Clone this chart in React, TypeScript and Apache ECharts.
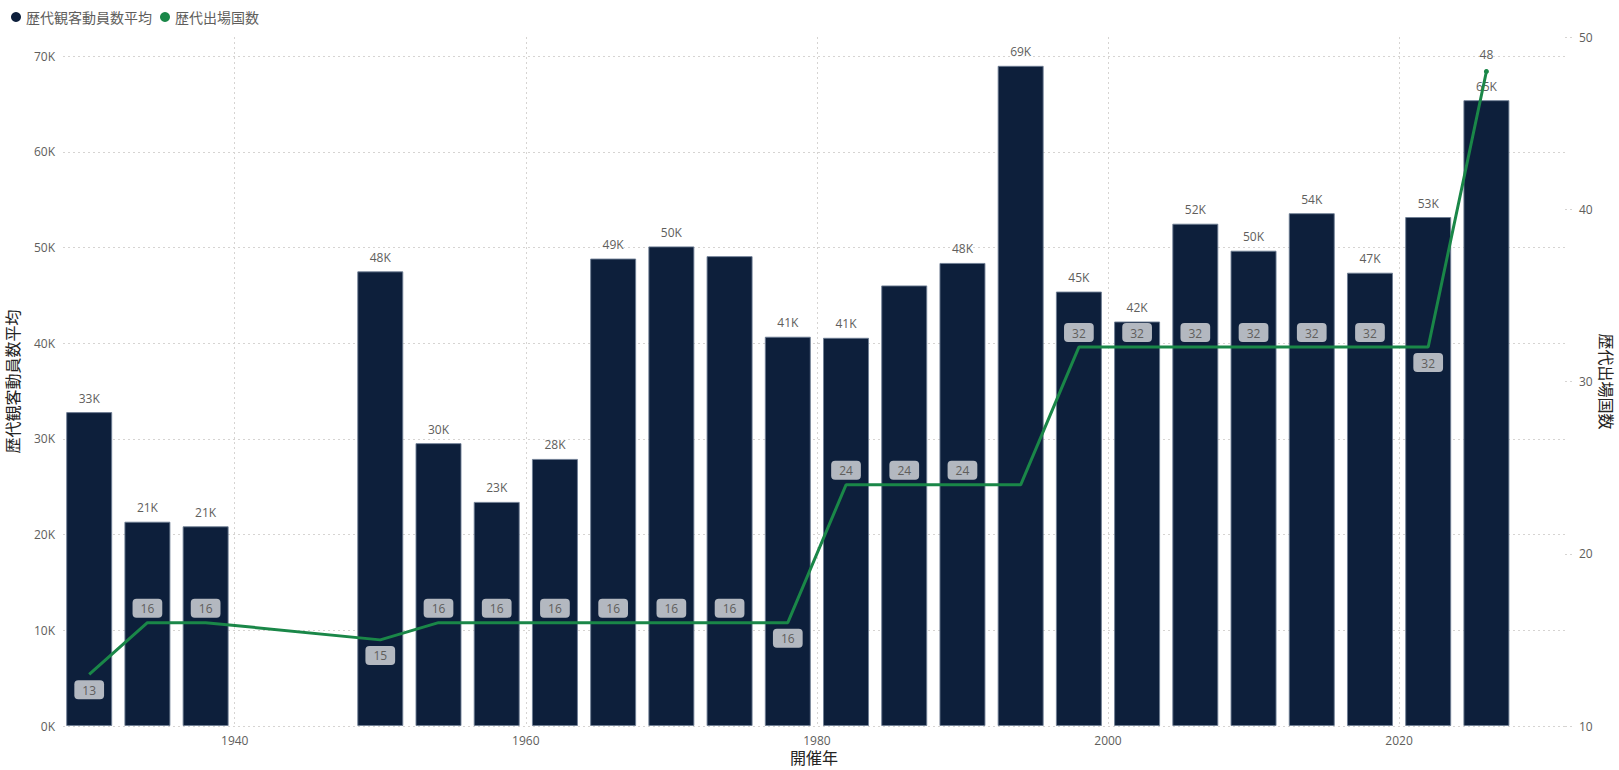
import React, { useEffect, useRef } from "react";
import * as echarts from "echarts";

const years = [1930, 1934, 1938, 1950, 1954, 1958, 1962, 1966, 1970, 1974, 1978, 1982, 1986, 1990, 1994, 1998, 2002, 2006, 2010, 2014, 2018, 2022, 2026];
const attendance = [32800, 21350, 20870, 47510, 29560, 23420, 27910, 48850, 50120, 49100, 40680, 40570, 46040, 48390, 68990, 45400, 42270, 52490, 49670, 53590, 47370, 53190, 65400];
const teams = [13, 16, 16, 15, 16, 16, 16, 16, 16, 16, 16, 24, 24, 24, 24, 32, 32, 32, 32, 32, 32, 32, 48];

// label display config (by year)
const hiddenBarLabelYears = [1974, 1986];
const hiddenLineLabelYears = [1994];
const lineLabelBelowYears = [1930, 1950, 1978, 2022];
const plainLineLabelYears = [2026];

const barName = "歴代観客動員数平均";
const lineName = "歴代出場国数";

const FONT = "'Segoe UI', 'Open Sans', 'Noto Sans CJK JP', sans-serif";
const NAVY = "#0D1F3B";
const GREEN = "#1A8748";
const GRAY = "#605E5C";
const GRID = "#D6D4D2";

export default function App() {
  const ref = useRef<HTMLDivElement>(null);
  useEffect(() => {
    if (!ref.current) return;
    const chart = echarts.init(ref.current, undefined, { renderer: "svg" });

    const barData = years.map((y, i) => ({
      value: [y, attendance[i]],
      label: { show: !hiddenBarLabelYears.includes(y) },
    }));

    const lineData = years.map((y, i) => {
      const below = lineLabelBelowYears.includes(y);
      const plain = plainLineLabelYears.includes(y);
      return {
        value: [y, teams[i]],
        symbolSize: plain ? 5 : 0,
        label: {
          show: !hiddenLineLabelYears.includes(y),
          position: below ? "bottom" : "top",
          distance: plain ? 8 : below ? 6 : 5,
          backgroundColor: plain ? "transparent" : "#B3B8C0",
          padding: plain ? 0 : [4, 8, 3, 8],
        },
      };
    });

    chart.setOption({
      animation: false,
      textStyle: { fontFamily: FONT },
      legend: {
        left: 6,
        top: 5,
        icon: "circle",
        itemWidth: 10,
        itemHeight: 10,
        itemGap: 8,
        textStyle: { fontSize: 14, color: GRAY, fontFamily: FONT },
        data: [
          { name: barName, itemStyle: { color: NAVY, borderWidth: 0 } },
          { name: lineName, itemStyle: { color: GREEN, borderWidth: 0 } },
        ],
      },
      grid: { left: 63, right: 54, top: 37, bottom: 44, outerBoundsMode: "none" },
      xAxis: {
        type: "value",
        min: 1928.2,
        max: 2031.4,
        splitNumber: 5,
        name: "開催年",
        nameLocation: "middle",
        nameGap: 24,
        nameMoveOverlap: false,
        nameTextStyle: { fontSize: 16, color: "#252423", fontFamily: FONT },
        axisLine: { show: false },
        axisTick: { show: false },
        axisLabel: {
          color: GRAY,
          fontSize: 12,
          margin: 8,
          showMinLabel: false,
          showMaxLabel: false,
          formatter: (v: number) => String(Math.round(v)),
        },
        splitLine: {
          show: true,
          showMinLine: false,
          showMaxLine: false,
          lineStyle: { color: GRID, type: [2, 3], width: 1 },
        },
      },
      yAxis: [
        {
          type: "value",
          min: 0,
          max: 72000,
          interval: 10000,
          name: barName,
          nameLocation: "middle",
          nameRotate: 90,
          nameGap: 42,
          nameMoveOverlap: false,
          nameTextStyle: { fontSize: 16, color: "#252423", fontFamily: FONT },
          axisLine: { show: false },
          axisTick: { show: false },
          axisLabel: {
            color: GRAY,
            fontSize: 12,
            margin: 8,
            showMaxLabel: false,
            formatter: (v: number) => (v % 10000 === 0 ? v / 1000 + "K" : ""),
          },
          splitLine: {
            show: true,
            showMaxLine: false,
            lineStyle: { color: GRID, type: [2, 3], width: 1 },
          },
        },
        {
          type: "value",
          min: 10,
          max: 50,
          interval: 10,
          name: lineName,
          nameLocation: "middle",
          nameRotate: -90,
          nameGap: 33,
          nameMoveOverlap: false,
          nameTextStyle: { fontSize: 16, color: "#252423", fontFamily: FONT },
          axisLine: { show: false },
          axisTick: { show: true, length: 7, inside: false, lineStyle: { color: GRID, type: [2, 3] } },
          axisLabel: { color: GRAY, fontSize: 12, margin: 14 },
          splitLine: { show: false },
        },
      ],
      series: [
        {
          name: barName,
          type: "bar",
          yAxisIndex: 0,
          barWidth: 46,
          z: 2,
          itemStyle: { color: NAVY, borderColor: "rgba(110,125,148,0.9)", borderWidth: 1 },
          label: {
            show: true,
            position: "top",
            distance: 8,
            color: GRAY,
            fontSize: 12,
            fontFamily: FONT,
            backgroundColor: "rgba(255,255,255,0.6)",
            formatter: (p: any) => Math.round(p.value[1] / 1000) + "K",
          },
          data: barData,
        },
        {
          name: lineName,
          type: "line",
          yAxisIndex: 1,
          z: 3,
          symbol: "circle",
          showSymbol: true,
          color: GREEN,
          lineStyle: { color: GREEN, width: 3 },
          itemStyle: { color: GREEN },
          label: {
            show: true,
            color: GRAY,
            fontSize: 12,
            fontFamily: FONT,
            borderRadius: 4,
            formatter: (p: any) => String(p.value[1]),
          },
          labelLayout: { hideOverlap: false },
          data: lineData,
        },
      ],
    });

    return () => chart.dispose();
  }, []);

  return (
    <div
      ref={ref}
      style={{ position: "fixed", left: 0, top: 0, width: 1619, height: 770, background: "#fff" }}
    />
  );
}
